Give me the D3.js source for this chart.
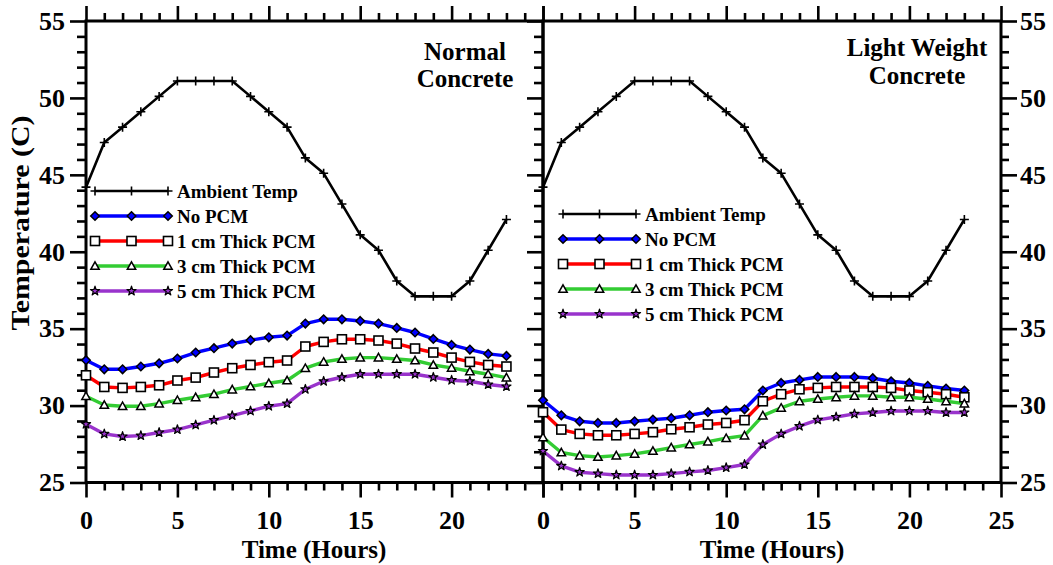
<!DOCTYPE html>
<html><head><meta charset="utf-8">
<script src="https://cdn.jsdelivr.net/npm/d3@7"></script>
<style>
body{margin:0;background:#fff}
svg{display:block}
text{font-family:"Liberation Serif","Times New Roman",serif;font-weight:bold;fill:#000}
</style>
</head><body>
<svg id="chart" width="1053" height="565"></svg>
<script>
// ---------- data ----------
const hours = [0,1,2,3,4,5,6,7,8,9,10,11,12,13,14,15,16,17,18,19,20,21,22,23];
const seriesNames = ["Ambient Temp","No PCM","1 cm Thick PCM","3 cm Thick PCM","5 cm Thick PCM"];
const xTickLabels = [0,5,10,15,20,25];
const yTickLabels = [25,30,35,40,45,50,55];
const panelTitles = [["Normal","Concrete"],["Light Weight","Concrete"]];
const xAxisTitle = "Time (Hours)";
const yAxisTitle = "Temperature (C)";

const ambientTemp = [44.2,47.1,48.1,49.1,50.1,51.1,51.1,51.1,51.1,50.1,49.1,48.1,46.1,45.1,43.1,41.1,40.1,38.1,37.1,37.1,37.1,38.1,40.1,42.1];

const normalNoPCM = [32.95,32.36,32.36,32.54,32.75,33.06,33.45,33.73,34.03,34.25,34.44,34.55,35.33,35.61,35.61,35.5,35.33,35.05,34.75,34.33,33.94,33.64,33.36,33.23];
const normal1cm   = [31.97,31.21,31.15,31.21,31.32,31.63,31.82,32.15,32.43,32.64,32.82,32.93,33.84,34.14,34.31,34.31,34.23,34.03,33.71,33.45,33.12,32.84,32.64,32.54];
const normal3cm   = [30.61,30.04,29.96,29.96,30.13,30.35,30.54,30.74,31.04,31.24,31.45,31.63,32.43,32.84,33.03,33.12,33.12,33.03,32.93,32.64,32.45,32.23,32.04,31.82];
const normal5cm   = [28.79,28.16,27.99,28.05,28.25,28.44,28.74,29.05,29.35,29.65,29.96,30.13,31.06,31.58,31.84,32.04,32.04,32.04,32.04,31.84,31.65,31.58,31.37,31.24];

const lightNoPCM = [30.35,29.37,28.98,28.87,28.87,28.98,29.09,29.18,29.37,29.57,29.68,29.76,30.98,31.47,31.67,31.86,31.86,31.86,31.78,31.58,31.47,31.28,31.11,30.98];
const light1cm   = [29.57,28.44,28.16,28.07,28.07,28.16,28.27,28.46,28.59,28.77,28.87,29.05,30.28,30.74,31.06,31.15,31.21,31.21,31.21,31.15,30.98,30.87,30.74,30.54];
const light3cm   = [27.94,26.95,26.75,26.66,26.75,26.86,27.05,27.27,27.47,27.66,27.88,28.05,29.35,29.85,30.28,30.43,30.54,30.63,30.63,30.54,30.54,30.43,30.28,30.13];
const light5cm   = [27.05,26.08,25.67,25.58,25.49,25.49,25.49,25.58,25.69,25.78,25.97,26.17,27.47,28.16,28.66,29.07,29.26,29.46,29.55,29.65,29.65,29.65,29.55,29.55];

// ---------- styles ----------
const styles = [
  {color:"#000000", width:2.6, marker:"plus"},
  {color:"#0000ff", width:3.4, marker:"diamond"},
  {color:"#ff0000", width:3.4, marker:"square"},
  {color:"#33cc33", width:3.4, marker:"triangle"},
  {color:"#9933cc", width:3.4, marker:"star"}
];

const svg = d3.select("#chart");
const yTop = 21, yBot = 482.5;
const y = d3.scaleLinear().domain([25,55]).range([yBot,yTop]);

const panels = [
  {x0:86, x1:543, series:[ambientTemp,normalNoPCM,normal1cm,normal3cm,normal5cm],
   title:panelTitles[0], titleX:465, titleY:[60,87], legX:95, legY:191, showLast:false,
   leftLabels:true, rightLabels:false, xTitleX:314},
  {x0:543, x1:1001, series:[ambientTemp,lightNoPCM,light1cm,light3cm,light5cm],
   title:panelTitles[1], titleX:917, titleY:[56,84], legX:563, legY:214, showLast:true,
   leftLabels:false, rightLabels:true, xTitleX:772}
];

function drawMarker(g, type, cx, cy, color){
  if(type==="plus"){
    g.append("path").attr("d",`M${cx},${cy-4.5}V${cy+4.5}M${cx-4.5},${cy}H${cx+4.5}`)
      .attr("stroke","#000").attr("stroke-width",1.6).attr("fill","none");
  } else if(type==="diamond"){
    const r = 4.3;
    g.append("path").attr("d",`M${cx},${cy-r}L${cx+r},${cy}L${cx},${cy+r}L${cx-r},${cy}Z`)
      .attr("fill",color).attr("stroke","#000").attr("stroke-width",1.5);
  } else if(type==="square"){
    g.append("rect").attr("x",cx-4.5).attr("y",cy-4.5).attr("width",9).attr("height",9)
      .attr("fill","#fff").attr("stroke","#000").attr("stroke-width",1.6);
  } else if(type==="triangle"){
    const h = 4.2;
    g.append("path").attr("d",`M${cx},${cy-h}L${cx+h},${cy+h*0.8}L${cx-h},${cy+h*0.8}Z`)
      .attr("fill","#fff").attr("stroke","#000").attr("stroke-width",1.5);
  } else if(type==="star"){
    g.append("path").attr("d",d3.symbol().type(d3.symbolStar).size(26)())
      .attr("transform",`translate(${cx},${cy})`)
      .attr("fill",color).attr("stroke","#000").attr("stroke-width",1.2).attr("stroke-linejoin","round");
  }
}

panels.forEach((p,pi)=>{
  const x = d3.scaleLinear().domain([0,25]).range([p.x0,p.x1]);
  const g = svg.append("g");
  const majorX = xTickLabels;
  const minorX = d3.range(0,26).filter(d=>d%5!==0);
  const majorY = yTickLabels;
  const minorY = d3.range(25,56).filter(d=>d%5!==0);

  // bottom axis
  g.append("g").attr("transform",`translate(0,${yBot})`)
    .call(d3.axisBottom(x).tickValues(majorX).tickSize(15).tickPadding(13)
      .tickFormat(d=> (p.showLast || d<25) ? d : ""));
  g.append("g").attr("transform",`translate(0,${yBot})`)
    .call(d3.axisBottom(x).tickValues(minorX).tickSize(8).tickFormat(""));
  // top axis
  g.append("g").attr("transform",`translate(0,${yTop})`)
    .call(d3.axisTop(x).tickValues(majorX).tickSize(15).tickFormat(""));
  g.append("g").attr("transform",`translate(0,${yTop})`)
    .call(d3.axisTop(x).tickValues(minorX).tickSize(8).tickFormat(""));
  // left axis
  g.append("g").attr("transform",`translate(${p.x0},0)`)
    .call(d3.axisLeft(y).tickValues(majorY).tickSize(16).tickPadding(5)
      .tickFormat(d=> p.leftLabels ? d : ""));
  g.append("g").attr("transform",`translate(${p.x0},0)`)
    .call(d3.axisLeft(y).tickValues(minorY).tickSize(9).tickFormat(""));
  // right axis (outer)
  if(p.rightLabels){
    g.append("g").attr("transform",`translate(${p.x1},0)`)
      .call(d3.axisRight(y).tickValues(majorY).tickSize(16).tickPadding(3));
    g.append("g").attr("transform",`translate(${p.x1},0)`)
      .call(d3.axisRight(y).tickValues(minorY).tickSize(8).tickFormat(""));
  }
  g.selectAll(".domain").remove();
  g.selectAll(".tick line").attr("stroke","#000").attr("stroke-width",2.6);
  g.selectAll(".tick text").style("font-size","26px").attr("fill","#000")
    .style("font-family",'"Liberation Serif","Times New Roman",serif').style("font-weight","bold");

  // frame
  g.append("rect").attr("x",p.x0).attr("y",yTop).attr("width",p.x1-p.x0).attr("height",yBot-yTop)
    .attr("fill","none").attr("stroke","#000").attr("stroke-width",3);

  // series lines
  const line = d3.line().x((d,i)=>x(hours[i])).y(d=>y(d));
  p.series.forEach((vals,si)=>{
    const st = styles[si];
    g.append("path").datum(vals).attr("d",line).attr("fill","none")
      .attr("stroke",st.color).attr("stroke-width",st.width).attr("stroke-linejoin","round");
  });
  p.series.forEach((vals,si)=>{
    const st = styles[si];
    const mg = g.append("g");
    vals.forEach((v,i)=>drawMarker(mg, st.marker, x(hours[i]), y(v), st.color));
  });

  // legend
  seriesNames.forEach((name,si)=>{
    const st = styles[si];
    const ly = p.legY + si*25;
    const lg = g.append("g");
    lg.append("line").attr("x1",p.legX).attr("x2",p.legX+73).attr("y1",ly).attr("y2",ly)
      .attr("stroke",st.color).attr("stroke-width",st.width);
    [0,36.5,73].forEach(dx=>drawMarker(lg, st.marker, p.legX+dx, ly, st.color));
    lg.append("text").attr("x",p.legX+82).attr("y",ly+6.5).style("font-size","19px").text(name);
  });

  // panel title
  p.title.forEach((t,ti)=>{
    g.append("text").attr("x",p.titleX).attr("y",p.titleY[ti]).attr("text-anchor","middle")
      .style("font-size","25px").text(t);
  });

  // x axis title
  g.append("text").attr("x",p.xTitleX).attr("y",558).attr("text-anchor","middle")
    .style("font-size","25px").text(xAxisTitle);
});

// y axis title
svg.append("text").attr("transform","translate(29,223) rotate(-90)").attr("text-anchor","middle")
  .style("font-size","25px").attr("textLength",215).attr("lengthAdjust","spacingAndGlyphs").text(yAxisTitle);
</script>
</body></html>
